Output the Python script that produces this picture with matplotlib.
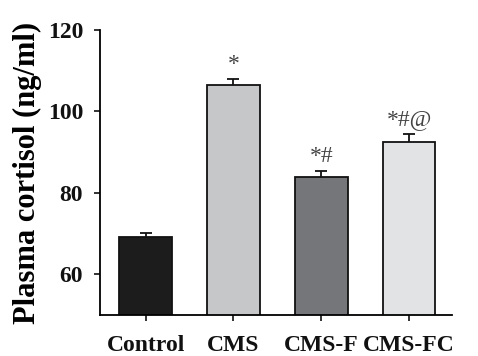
import matplotlib
matplotlib.use("Agg")
import matplotlib.pyplot as plt

categories = ["Control", "CMS", "CMS-F", "CMS-FC"]
values = [69.2, 106.4, 83.9, 92.6]
errors = [0.9, 1.5, 1.5, 1.9]
marks = ["", "*", "*#", "*#@"]
colors = ["#1c1c1c", "#c6c7c9", "#757679", "#e2e3e5"]
yticks = [60, 80, 100, 120]

plt.rcParams['font.family'] = ['Liberation Serif', 'DejaVu Serif']

fig = plt.figure(figsize=(4.78, 3.56), dpi=100)
ax = fig.add_axes([0.209, 0.115, 0.737, 0.801])

x = list(range(len(categories)))
ax.errorbar(x, values, yerr=errors, fmt="none", ecolor="#111111", elinewidth=1.3,
            capsize=4, capthick=1.3, zorder=1)
ax.bar(x, values, width=0.6, color=colors, edgecolor="#111111", linewidth=1.3, zorder=2)

for xi, v, e, m in zip(x, values, errors, marks):
    if m:
        ax.annotate(m, (xi, v + e), xytext=(0, 3), textcoords="offset points",
                    ha="center", va="bottom", fontsize=17, color="#444444")

ax.set_xlim(-0.52, 3.49)
ax.set_ylim(50, 120)
ax.set_yticks(yticks)
ax.set_xticks(x)
ax.set_xticklabels(categories, fontsize=17, fontweight="bold")
ax.set_yticklabels([str(t) for t in yticks], fontsize=17, fontweight="bold")
ax.set_ylabel("Plasma cortisol (ng/ml)", fontsize=22, fontweight="bold", labelpad=4)

ax.spines["top"].set_visible(False)
ax.spines["right"].set_visible(False)
ax.spines["left"].set_linewidth(1.3)
ax.spines["bottom"].set_linewidth(1.3)
ax.tick_params(axis="both", direction="out", length=4, width=1.2, colors="#111111")
ax.tick_params(axis="y", pad=8)
ax.tick_params(axis="x", pad=10)

fig.savefig("out.png", dpi=100)
